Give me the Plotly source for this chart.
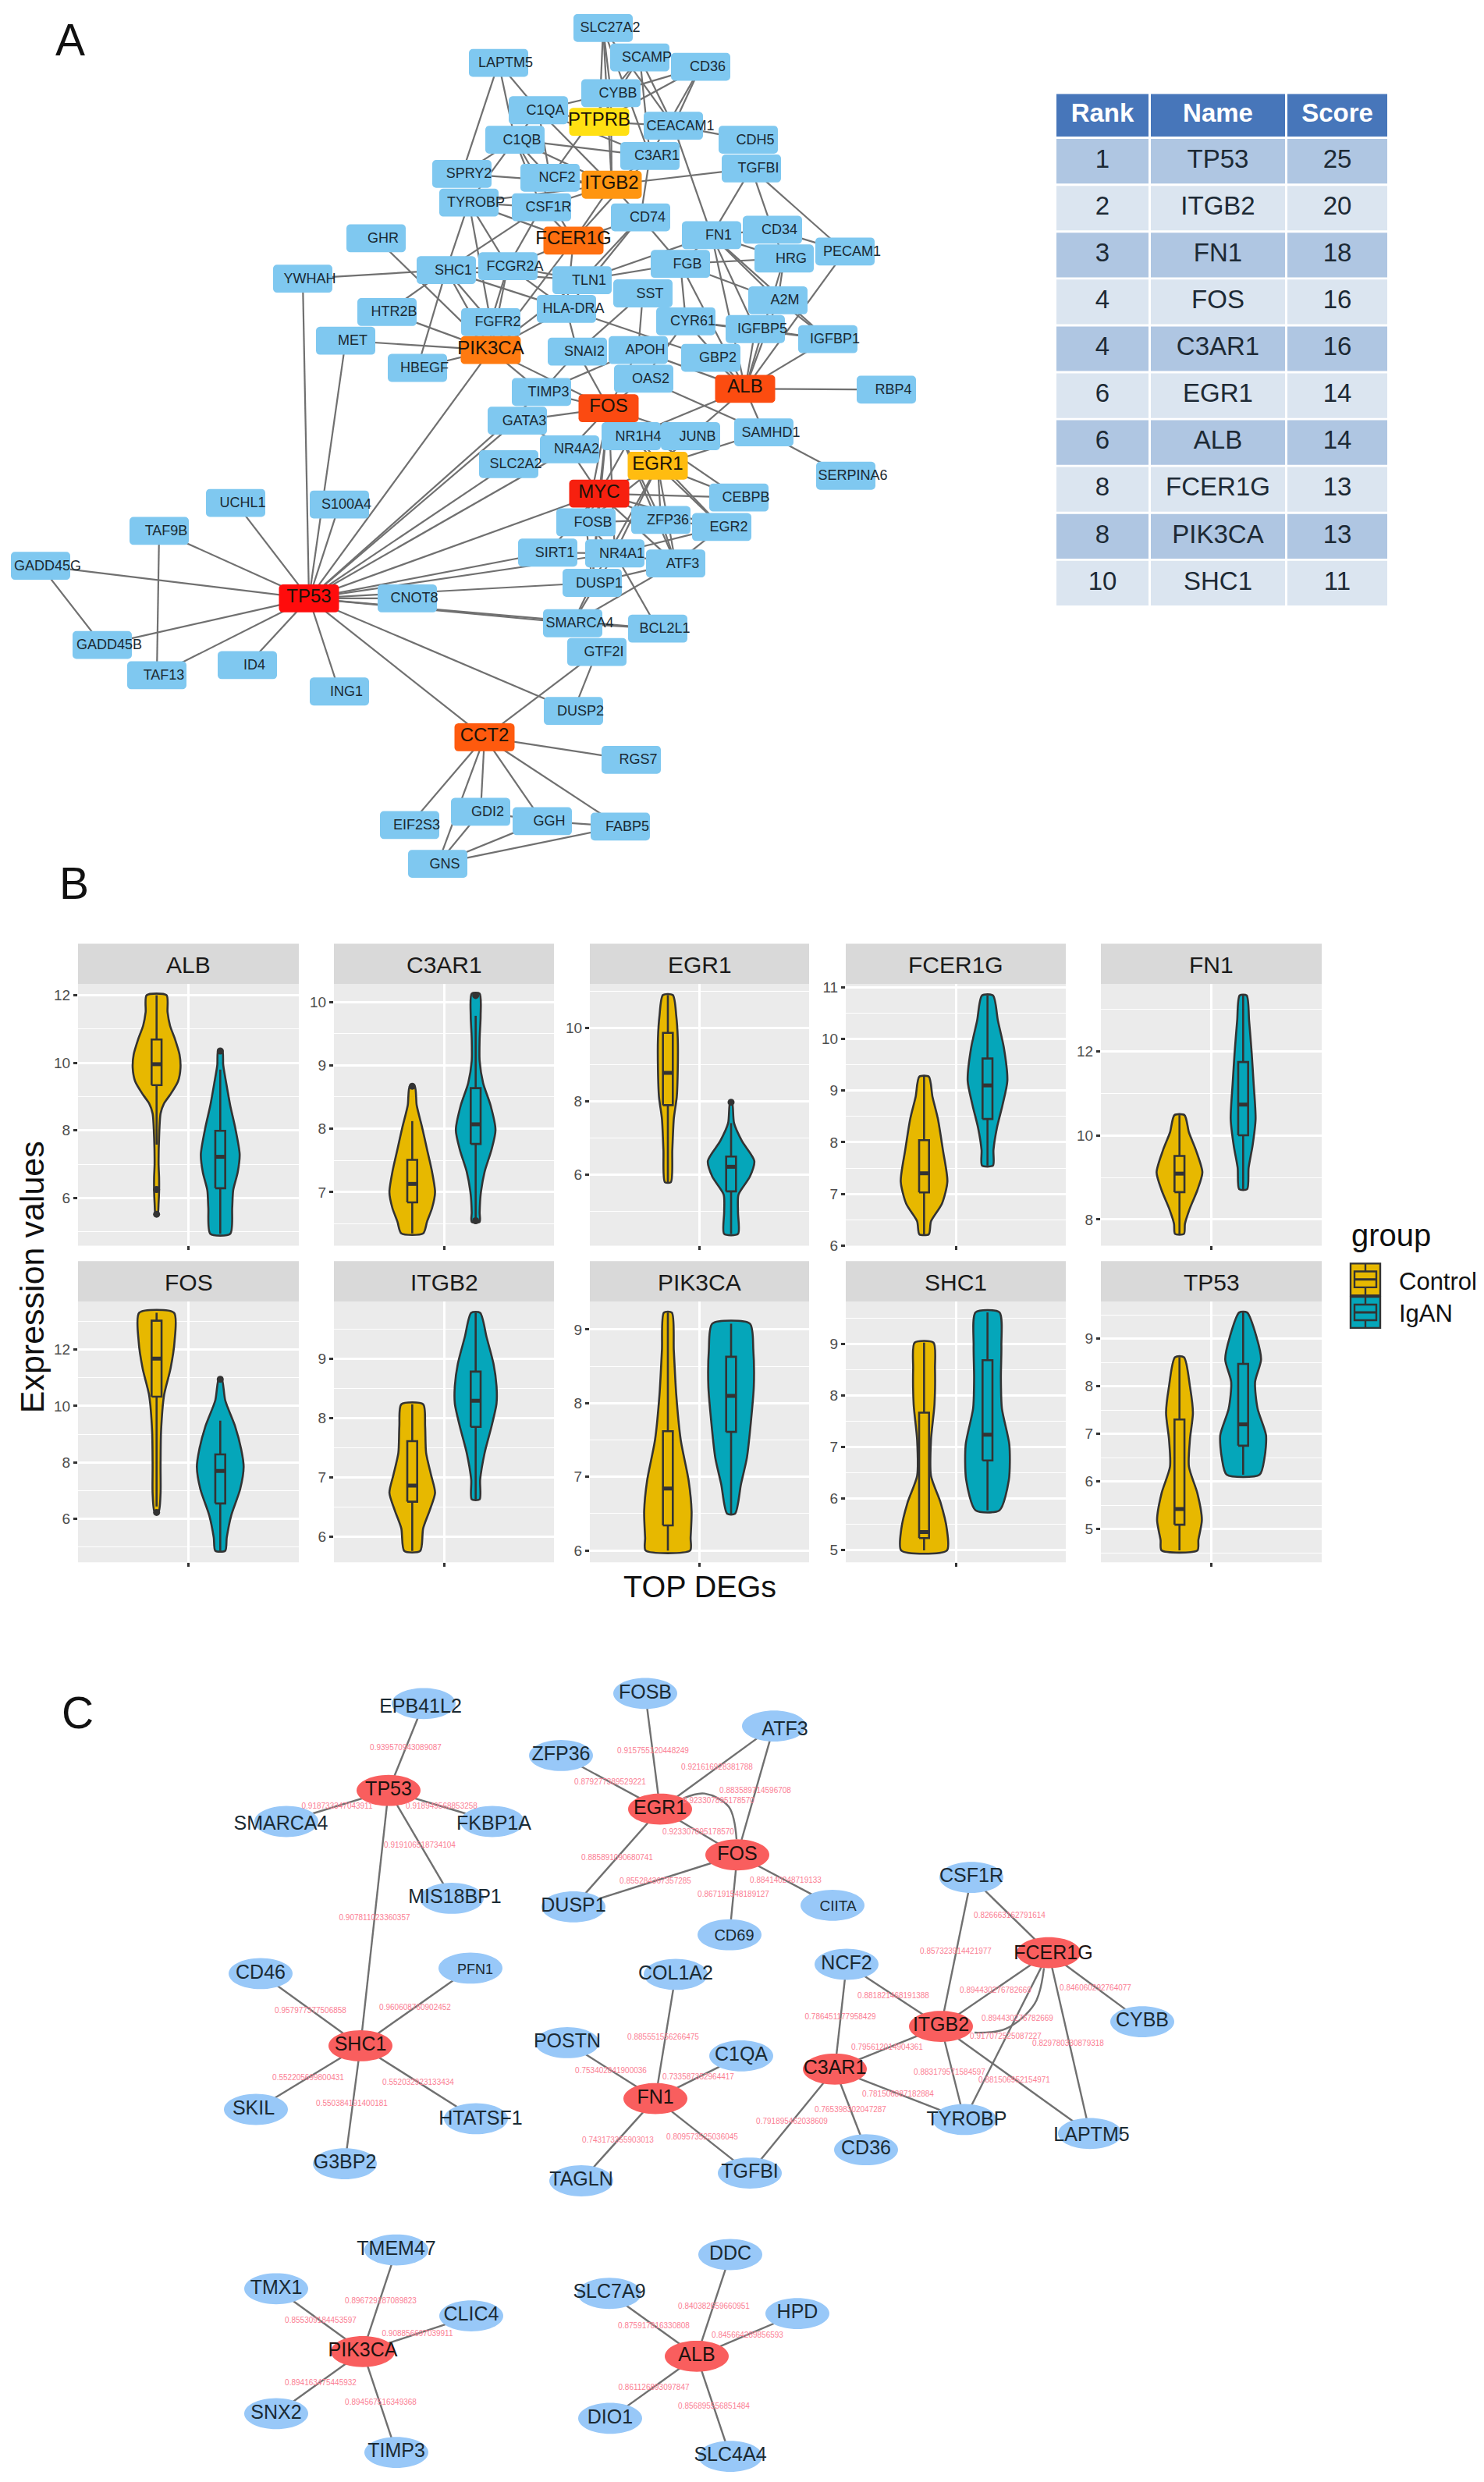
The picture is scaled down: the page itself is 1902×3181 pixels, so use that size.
import numpy as np
import plotly.graph_objects as go

W, H = 1902, 3181
FONT = "Liberation Sans"

# ---------- Panel A: network ----------
A_NAMES = ["SLC27A2","SCAMP","CD36","LAPTM5","CYBB","C1QA","CEACAM1","CDH5","C1QB","C3AR1","TGFBI","SPRY2","NCF2",
 "TYROBP","CSF1R","CD74","CD34","FN1","GHR","PECAM1","HRG","FGB","SHC1","FCGR2A","TLN1","YWHAH","SST","A2M","HTR2B",
 "HLA-DRA","FGFR2","CYR61","IGFBP5","IGFBP1","MET","SNAI2","APOH","GBP2","HBEGF","OAS2","RBP4","TIMP3","GATA3","SAMHD1",
 "NR1H4","JUNB","NR4A2","SLC2A2","SERPINA6","CEBPB","FOSB","ZFP36","EGR2","UCHL1","S100A4","TAF9B","SIRT1","NR4A1","ATF3",
 "GADD45G","DUSP1","CNOT8","SMARCA4","BCL2L1","GADD45B","GTF2I","TAF13","ID4","ING1","DUSP2","RGS7","GDI2","GGH","FABP5",
 "EIF2S3","GNS"]
A_X = [773,820,898,639,783,690,863,959,660,833,963,592,705,601,694,821,990,912,482,1083,1005,872,572,651,746,388,824,997,496,
 726,629,879,968,1061,443,740,818,911,535,825,1136,694,663,979,809,885,730,652,1084,947,751,847,925,302,435,204,702,788,866,
 52,759,522,734,843,131,765,201,317,435,735,809,616,695,795,525,561]
A_Y = [30,68,80,75,114,136,156,174,174,195,211,218,223,255,261,274,290,297,301,318,327,334,342,337,355,353,372,381,396,392,
 409,408,418,431,433,447,445,455,468,482,496,499,536,551,556,556,573,592,607,635,667,664,673,642,644,678,706,707,720,723,745,
 765,797,804,825,834,864,851,885,910,973,1040,1052,1059,1057,1107]
A_HUB_NAMES = ["PTPRB","ITGB2","FCER1G","PIK3CA","ALB","FOS","EGR1","MYC","TP53","CCT2"]
A_HUB_X = [768,784,735,629,955,780,843,768,396,621]
A_HUB_Y = [151,232,304,445,495,520,594,630,765,944]
A_HUB_COLORS = ["#ffe012","#ff9510","#ff6f10","#ff7a10","#fc4c10","#fb4a11","#ffbc10","#f7200f","#ff0c0c","#fe5a0e"]
A_EDGES = """SLC27A2-CEACAM1 SLC27A2-PTPRB SLC27A2-ITGB2 SLC27A2-C3AR1 SLC27A2-CYBB SCAMP-CEACAM1 SCAMP-CYBB SCAMP-PTPRB
SCAMP-C3AR1 CD36-CYBB CD36-CEACAM1 CD36-C3AR1 CD36-PTPRB LAPTM5-SPRY2 LAPTM5-C1QA LAPTM5-C1QB C1QA-C1QB C1QA-NCF2 C1QA-ITGB2
C1QA-C3AR1 C1QA-PTPRB CYBB-ITGB2 CYBB-C1QA CYBB-NCF2 C1QB-C3AR1 C1QB-ITGB2 C1QB-NCF2 C1QB-TYROBP C1QB-SPRY2 C1QB-FCER1G
C1QB-CSF1R PTPRB-CEACAM1 CEACAM1-CDH5 CEACAM1-FN1 C3AR1-ITGB2 C3AR1-FCER1G C3AR1-CD74 ITGB2-TGFBI ITGB2-NCF2 ITGB2-FCER1G
ITGB2-TYROBP ITGB2-CSF1R ITGB2-CD74 ITGB2-SPRY2 TGFBI-FN1 TGFBI-CD34 TGFBI-PECAM1 TYROBP-FCER1G TYROBP-CSF1R TYROBP-SHC1
TYROBP-FGFR2 TYROBP-FCGR2A CSF1R-FCER1G CSF1R-SHC1 CSF1R-FCGR2A FCER1G-FCGR2A FCER1G-CD74 FCER1G-PIK3CA FCER1G-HLA-DRA
CD74-HLA-DRA CD74-TLN1 CD74-FGB FN1-FGB FN1-HRG FN1-A2M FN1-IGFBP5 FN1-IGFBP1 FN1-ALB FN1-TLN1 FN1-CD34 HRG-FGB HRG-A2M
HRG-ALB HRG-CD34 PECAM1-CD34 PECAM1-ALB FGB-TLN1 FGB-A2M FGB-CYR61 FGB-ALB TLN1-SHC1 TLN1-FCGR2A TLN1-PIK3CA SHC1-YWHAH
SHC1-FCGR2A SHC1-FGFR2 SHC1-PIK3CA SHC1-HTR2B SHC1-HBEGF SHC1-HLA-DRA GHR-PIK3CA HTR2B-PIK3CA MET-PIK3CA HBEGF-PIK3CA
FGFR2-PIK3CA FGFR2-FCGR2A FCGR2A-PIK3CA HLA-DRA-PIK3CA PIK3CA-FOS PIK3CA-TIMP3 PIK3CA-TP53 HLA-DRA-SNAI2 HLA-DRA-FCGR2A
HLA-DRA-GBP2 SST-APOH SST-SNAI2 SNAI2-FOS SNAI2-TIMP3 APOH-TIMP3 APOH-FOS APOH-ALB CYR61-IGFBP5 CYR61-IGFBP1 CYR61-ALB
CYR61-OAS2 OAS2-SAMHD1 GBP2-ALB IGFBP5-IGFBP1 IGFBP5-ALB IGFBP1-ALB A2M-IGFBP1 A2M-ALB ALB-RBP4 ALB-SAMHD1 ALB-NR1H4 ALB-JUNB
SAMHD1-SERPINA6 FOS-GATA3 FOS-JUNB FOS-EGR1 FOS-NR4A2 FOS-NR1H4 FOS-NR4A1 FOS-FOSB FOS-TIMP3 FOS-OAS2 FOS-MYC FOS-ZFP36
FOS-ATF3 FOS-EGR2 FOS-DUSP1 FOS-CEBPB GATA3-TP53 GATA3-NR4A2 TIMP3-TP53 SLC2A2-TP53 MYC-TP53 TP53-NR4A2 EGR1-JUNB EGR1-SAMHD1
EGR1-FOSB EGR1-ZFP36 EGR1-ATF3 EGR1-CEBPB EGR1-EGR2 EGR1-NR4A1 EGR1-DUSP1 EGR1-MYC MYC-NR4A2 MYC-NR1H4 MYC-CEBPB MYC-FOSB
MYC-ZFP36 MYC-EGR2 MYC-SIRT1 MYC-ATF3 MYC-DUSP1 FOSB-ZFP36 FOSB-NR4A1 ZFP36-ATF3 NR4A1-ATF3 NR4A1-EGR2 NR4A1-SIRT1 DUSP1-SMARCA4
NR4A1-SMARCA4 SIRT1-TP53 FOSB-DUSP1 DUSP1-ATF3 ZFP36-EGR2 ATF3-EGR2 ATF3-SMARCA4 SMARCA4-BCL2L1 BCL2L1-NR4A1
TP53-GADD45G TP53-TAF9B TP53-UCHL1 TP53-YWHAH TP53-MET TP53-S100A4 TP53-NR4A1 TP53-DUSP1 TP53-SMARCA4 TP53-BCL2L1 TP53-CNOT8
TP53-GADD45B TP53-TAF13 TP53-ID4 TP53-ING1 TP53-CCT2 TP53-DUSP2 TAF9B-TAF13 GADD45G-GADD45B CCT2-GTF2I CCT2-RGS7 CCT2-EIF2S3
CCT2-GDI2 CCT2-GNS CCT2-GGH CCT2-FABP5 GTF2I-DUSP2 GNS-GDI2 GNS-GGH GNS-FABP5 GGH-FABP5 GDI2-GGH""".split()

# ---------- Panel A: ranking table ----------
TBL_COLUMNS = ["Rank","Name","Score"]
TBL_RANK = ["1","2","3","4","4","6","6","8","8","10"]
TBL_NAME = ["TP53","ITGB2","FN1","FOS","C3AR1","EGR1","ALB","FCER1G","PIK3CA","SHC1"]
TBL_SCORE = ["25","20","18","16","16","14","14","13","13","11"]

# ---------- Panel B: violins (level, relative density) ----------
GENES = ["ALB","C3AR1","EGR1","FCER1G","FN1","FOS","ITGB2","PIK3CA","SHC1","TP53"]
Y_RANGE = {"ALB":(4.59,12.33),"C3AR1":(6.157,10.28),"EGR1":(4.07,11.2),"FCER1G":(6.0,11.06),"FN1":(7.38,13.59),
           "FOS":(4.45,13.71),"ITGB2":(5.57,9.96),"PIK3CA":(5.84,9.38),"SHC1":(4.76,9.83),"TP53":(4.3,9.78)}
Y_DTICK = {"ALB":2,"C3AR1":1,"EGR1":2,"FCER1G":1,"FN1":2,"FOS":2,"ITGB2":1,"PIK3CA":1,"SHC1":1,"TP53":1}
CTRL_LEVEL = {
 "ALB":[12,11.5,11.1,10.7,10.25,9.85,9.45,9.05,8.8,8.5,7.8,7,6.6,6.2,5.85,5.5],
 "C3AR1":[8.67,8.37,8.02,7.67,7.32,7.0,6.75,6.54,6.35],
 "EGR1":[10.9,10.33,9.72,8.87,8.13,7.53,6.68,5.8],
 "FCER1G":[9.27,8.88,8.45,7.85,7.24,6.81,6.47,6.22],
 "FN1":[10.48,10.07,9.65,9.12,8.7,8.27,7.9,7.66],
 "FOS":[13.31,12.28,11.33,10.38,9.11,7.84,6.9,6.24],
 "ITGB2":[8.23,7.86,7.41,7.04,6.74,6.44,6.14,5.76],
 "PIK3CA":[9.23,8.72,8.11,7.5,6.95,6.53,6.17,6],
 "SHC1":[9.03,8.53,7.83,7.14,6.44,5.93,5.4,4.99],
 "TP53":[8.61,8.0,7.44,6.88,6.31,5.75,5.19,4.77,4.55]}
CTRL_DENS = {
 "ALB":[20,22,27,37,46,48,43,27,15,8,5,4,5,5,4,2],
 "C3AR1":[5,9,20,30,40,46,40,30,22],
 "EGR1":[10,17,20,20,18,12,9,6],
 "FCER1G":[9.5,17,28,38,47,36,14,9.5],
 "FN1":[10,19,33,46,36,21,11,9],
 "FOS":[35,36,28,15,9,8,8,4],
 "ITGB2":[22,26,28,38,46,35,22,16],
 "PIK3CA":[8,12,17,26,42,48,46,45],
 "SHC1":[19,22,21,14,14,33,46,46],
 "TP53":[9,21,27,21,19,36,45,38,36]}
IGAN_LEVEL = {
 "ALB":[10.39,9.93,9.4,8.74,8.08,7.29,6.76,6.23,5.71,4.94],
 "C3AR1":[10.13,9.78,9.42,9.07,8.72,8.37,7.98,7.67,7.32,6.96,6.68,6.53],
 "EGR1":[7.98,7.41,6.92,6.38,5.95,5.46,4.98,4.39],
 "FCER1G":[10.84,10.35,9.83,9.19,8.71,8.28,7.85,7.55],
 "FN1":[13.32,12.72,11.98,11.24,10.39,9.76,9.23,8.72],
 "FOS":[10.96,10.2,9.27,8.47,7.84,7.05,6.11,5.32,4.86],
 "ITGB2":[9.77,9.36,8.91,8.54,8.24,7.86,7.41,6.96,6.63],
 "PIK3CA":[9.08,8.72,8.23,7.74,7.26,6.9,6.5],
 "SHC1":[9.62,8.97,8.35,7.75,7.05,6.36,5.77],
 "TP53":[9.55,9.03,8.56,8.09,7.53,6.97,6.5,6.14]}
IGAN_DENS = {
 "ALB":[4,6,12,20,30,39,35,26,24,20],
 "C3AR1":[8,10,8,8,15,30,40,32,18,10,8,8],
 "EGR1":[2,6,22,47,38,15,14,14],
 "FCER1G":[11,21,33,40,30,19,12,11],
 "FN1":[7,12,17,21,25,19,11,8],
 "FOS":[3,10,30,42,47,40,22,13,10],
 "ITGB2":[9,22,36,42,42,32,18,9,8],
 "PIK3CA":[38,45,46,40,32,20,8],
 "SHC1":[24,28,27,29,44,43,24],
 "TP53":[8,27,36,24,29,46,43,33]}
# q1, median, q3, lower whisker, upper whisker
CTRL_BOX = {"ALB":(9.34,9.96,10.69,7.58,12),"C3AR1":(6.84,7.13,7.51,6.35,8.12),"EGR1":(7.9,8.78,9.87,5.8,10.9),
 "FCER1G":(7.03,7.4,8.04,6.22,9.27),"FN1":(8.65,9.09,9.51,7.66,10.48),"FOS":(10.33,11.68,13.03,6.43,13.31),
 "ITGB2":(6.59,6.86,7.61,5.76,8.23),"PIK3CA":(6.34,6.84,7.62,6,9.23),"SHC1":(5.23,5.35,7.67,4.99,9.03),"TP53":(5.09,5.42,7.3,4.55,8.61)}
IGAN_BOX = {"ALB":(6.29,7.22,7.99,4.94,9.8),"C3AR1":(7.76,8.07,8.64,6.53,9.78),"EGR1":(5.55,6.22,6.5,4.39,7.41),
 "FCER1G":(8.45,9.1,9.62,7.55,10.84),"FN1":(10,10.73,11.74,8.72,13.32),"FOS":(6.54,7.69,8.28,4.86,9.48),
 "ITGB2":(7.85,8.29,8.78,6.63,9.77),"PIK3CA":(7.61,8.1,8.63,6.5,9.08),"SHC1":(6.74,7.24,8.69,5.77,9.62),"TP53":(6.75,7.2,8.47,6.14,9.55)}
CTRL_OUT = {"ALB":[6.25,5.52],"C3AR1":[8.67],"FOS":[6.22]}
IGAN_OUT = {"ALB":[10.35],"C3AR1":[10.1,6.55],"EGR1":[7.98],"FOS":[10.95]}
GROUPS = ["Control","IgAN"]

# ---------- Panel C: coexpression networks ----------
C_NAMES = ["EPB41L2","SMARCA4","FKBP1A","MIS18BP1","FOSB","ZFP36","ATF3","DUSP1","CD69","CD46","PFN1","SKIL","HTATSF1",
 "COL1A2","POSTN","C1QA","G3BP2","TAGLN","TGFBI","NCF2","CSF1R","CYBB","TYROBP","CD36","LAPTM5","CIITA","TMEM47","TMX1",
 "CLIC4","SNX2","TIMP3","DDC","SLC7A9","HPD","DIO1","SLC4A4"]
C_X = [543,367,631,579,827,719,992,735,935,334,603,328,610,866,727,950,442,745,961,1085,1245,1464,1236,1110,1397,1067,508,
 354,604,354,508,936,781,1022,782,936]
C_Y = [2189,2341,2341,2440,2176,2256,2218,2451,2487,2537,2530,2712,2724,2538,2626,2643,2782,2804,2794,2525,2413,2599,2725,
 2764,2743,2449,2893,2943,2978,3104,3154,2899,2949,2975,3110,3159]
C_HUB_NAMES = ["TP53","EGR1","FOS","SHC1","FN1","C3AR1","ITGB2","FCER1G","PIK3CA","ALB"]
C_HUB_X = [498,846,945,462,840,1070,1206,1344,465,893]
C_HUB_Y = [2301,2325,2384,2630,2698,2660,2605,2510,3024,3030]
C_LABEL_SHIFT = {"EPB41L2":(-4,5),"SMARCA4":(-7,4),"FKBP1A":(2,4),"MIS18BP1":(4,0),"ATF3":(14,6),"CD69":(6,2),"PFN1":(6,3),
 "SKIL":(-3,0),"HTATSF1":(6,1),"CIITA":(7,2),"FCER1G":(6,2),"TYROBP":(3,1),"LAPTM5":(2,3)}
C_LABEL_SIZE = {"CD69":20,"PFN1":18,"CIITA":19}
C_EDGES = [("TP53","EPB41L2"),("TP53","SMARCA4"),("TP53","FKBP1A"),("TP53","MIS18BP1"),("TP53","SHC1"),("SHC1","CD46"),
 ("SHC1","PFN1"),("SHC1","SKIL"),("SHC1","HTATSF1"),("SHC1","G3BP2"),("EGR1","FOSB"),("EGR1","ZFP36"),("EGR1","ATF3"),
 ("FOS","ATF3"),("EGR1","FOS"),("EGR1","DUSP1"),("FOS","DUSP1"),("FOS","CD69"),("FOS","CIITA"),("FN1","COL1A2"),("FN1","POSTN"),
 ("FN1","C1QA"),("FN1","TAGLN"),("FN1","TGFBI"),("C3AR1","NCF2"),("C3AR1","ITGB2"),("C3AR1","TYROBP"),("C3AR1","CD36"),
 ("C3AR1","TGFBI"),("ITGB2","NCF2"),("ITGB2","CSF1R"),("FCER1G","CSF1R"),("ITGB2","FCER1G"),("ITGB2","TYROBP"),("ITGB2","LAPTM5"),
 ("FCER1G","TYROBP"),("FCER1G","LAPTM5"),("FCER1G","CYBB"),("PIK3CA","TMEM47"),("PIK3CA","TMX1"),("PIK3CA","CLIC4"),
 ("PIK3CA","SNX2"),("PIK3CA","TIMP3"),("ALB","DDC"),("ALB","SLC7A9"),("ALB","HPD"),("ALB","DIO1"),("ALB","SLC4A4")]
C_CURVE_1_X = [876,903,934,944]
C_CURVE_1_Y = [2311,2305,2322,2364]
C_CURVE_2_X = [1338,1326,1289,1249]
C_CURVE_2_Y = [2530,2576,2608,2613]
C_WEIGHT = ["0.939570943089087","0.918733347043911","0.918949568853258","0.919106518734104","0.907811023360357",
 "0.957977377506858","0.960608760902452","0.552205699800431","0.552032923133434","0.550384191400181","0.915755120448249",
 "0.921616928381788","0.879277389529221","0.883589714596708","0.923307895178570","0.923307895178570","0.885891090680741",
 "0.855284367357285","0.867191548189127","0.884140248719133","0.885551556266475","0.753402841900036","0.733587352964417",
 "0.743173355903013","0.809573525036045","0.786451177958429","0.795612014904361","0.781506887182884","0.765398302047287",
 "0.791895462038609","0.881821468191388","0.857323914421977","0.826663162791614","0.894430276782669","0.894430276782669",
 "0.883179571584597","0.881506952154971","0.917072525087227","0.829780330879318","0.846060292764077","0.896729187089823",
 "0.855309184453597","0.908856697039911","0.894163475445932","0.894567516349368","0.840382659660951","0.875917816330808",
 "0.845664289856593","0.861126893097847","0.856895556851484"]
C_WEIGHT_X = [520,432,566,538,480,398,532,395,536,451,837,919,782,968,921,895,791,840,940,1007,850,783,895,792,900,1077,1137,
 1151,1090,1015,1145,1225,1294,1276,1304,1217,1300,1289,1369,1404,488,411,535,411,488,915,838,958,838,915]
C_WEIGHT_Y = [2246,2322,2322,2372,2466,2585,2581,2672,2678,2705,2251,2272,2291,2302,2315,2355,2388,2418,2436,2417,2619,2663,
 2671,2752,2748,2593,2633,2693,2713,2728,2566,2509,2463,2559,2595,2665,2675,2618,2628,2556,2959,2984,3002,3065,3090,2966,
 2991,3004,3071,3095]

# ---------- Styles ----------
SKY = "#7fc8f0"; ELL = "#98c8f8"; RED = "#f95e5e"; EDGE = "#707070"; INK = "#1b2a33"
VIO = {"Control":"#e7b800","IgAN":"#05a6ba"}
OUT_LINE = "#333333"
PANEL_L = [100,428,756,1084,1411]; PANEL_R = [383,710,1037,1366,1694]
ROW_STRIP_T = [1210,1619]; ROW_T = [1262,1671]; ROW_B = [1599,2007]
DODGE = 0.173; DENS_SCALE = 0.002705; BOX_HALF = 0.027
TBL_COL_L = [1354,1475,1650]; TBL_COL_R = [1472,1647,1778]; TBL_TEXT_X = [1413,1561,1714]
TBL_HEAD_T, TBL_HEAD_B = 115, 170
TBL_ROW_T0, TBL_ROW_STEP, TBL_ROW_H = 173, 60.4, 57.5

def split_edge(e):
    if e.startswith("HLA-DRA-"):
        return "HLA-DRA", e[8:]
    if e.endswith("-HLA-DRA"):
        return e[:-8], "HLA-DRA"
    return tuple(e.split("-"))

def rrect(cx, cy, w, h, r=5):
    xs, ys = [], []
    for (ax, ay, a0) in [(cx+w/2-r, cy-h/2+r, -90), (cx+w/2-r, cy+h/2-r, 0), (cx-w/2+r, cy+h/2-r, 90), (cx-w/2+r, cy-h/2+r, 180)]:
        t = np.radians(np.linspace(a0, a0+90, 5))
        xs += list(ax + r*np.cos(t)); ys += list(ay + r*np.sin(t))
    return xs+[xs[0], None], ys+[ys[0], None]

def ell(cx, cy, rx=41, ry=20):
    t = np.linspace(0, 2*np.pi, 61)
    return list(cx+rx*np.cos(t))+[None], list(cy+ry*np.sin(t))+[None]

fig = go.Figure()
axes = {}

def page_trace(**kw):
    kw.setdefault("hoverinfo", "skip"); kw.setdefault("showlegend", False)
    fig.add_trace(go.Scatter(xaxis="x", yaxis="y", **kw))

# A edges
pos_a = {n:(x,y) for n,x,y in zip(A_NAMES, A_X, A_Y)}
pos_a.update({n:(x,y) for n,x,y in zip(A_HUB_NAMES, A_HUB_X, A_HUB_Y)})
ex, ey = [], []
for e in A_EDGES:
    a, b = split_edge(e)
    ex += [pos_a[a][0], pos_a[b][0], None]; ey += [pos_a[a][1], pos_a[b][1], None]
page_trace(x=ex, y=ey, mode="lines", line=dict(color=EDGE, width=2.2), name="A edges")
# A nodes
px_, py_ = [], []
for x, y in zip(A_X, A_Y):
    a, b = rrect(x, y, 76, 36); px_ += a; py_ += b
page_trace(x=px_, y=py_, mode="none", fill="toself", fillcolor=SKY, name="A nodes")
page_trace(x=[x+9 for x in A_X], y=[y+1 for y in A_Y], mode="text", text=A_NAMES,
           textfont=dict(family=FONT, size=18, color=INK), textposition="middle center")
for n, x, y, c in zip(A_HUB_NAMES, A_HUB_X, A_HUB_Y, A_HUB_COLORS):
    a, b = rrect(x, y, 77, 36)
    page_trace(x=a, y=b, mode="none", fill="toself", fillcolor=c, name=n)
page_trace(x=A_HUB_X, y=[y-1 for y in A_HUB_Y], mode="text", text=A_HUB_NAMES,
           textfont=dict(family=FONT, size=24, color="#1a1208"), textposition="middle center")

# C edges
pos_c = {n:(x,y) for n,x,y in zip(C_NAMES, C_X, C_Y)}
pos_c.update({n:(x,y) for n,x,y in zip(C_HUB_NAMES, C_HUB_X, C_HUB_Y)})
ex, ey = [], []
for a, b in C_EDGES:
    ex += [pos_c[a][0], pos_c[b][0], None]; ey += [pos_c[a][1], pos_c[b][1], None]
page_trace(x=ex, y=ey, mode="lines", line=dict(color=EDGE, width=2.4))
page_trace(x=C_CURVE_1_X, y=C_CURVE_1_Y, mode="lines", line=dict(color=EDGE, width=2.4, shape="spline"))
page_trace(x=C_CURVE_2_X, y=C_CURVE_2_Y, mode="lines", line=dict(color=EDGE, width=2.4, shape="spline"))
px_, py_ = [], []
for x, y in zip(C_X, C_Y):
    a, b = ell(x, y); px_ += a; py_ += b
page_trace(x=px_, y=py_, mode="none", fill="toself", fillcolor=ELL)
px_, py_ = [], []
for x, y in zip(C_HUB_X, C_HUB_Y):
    a, b = ell(x, y); px_ += a; py_ += b
page_trace(x=px_, y=py_, mode="none", fill="toself", fillcolor=RED)
page_trace(x=C_WEIGHT_X, y=C_WEIGHT_Y, mode="text", text=C_WEIGHT,
           textfont=dict(family=FONT, size=10, color="#fb8094"), textposition="middle center")
lx = [x+C_LABEL_SHIFT.get(n,(0,0))[0] for n,x in zip(C_NAMES, C_X)]
ly = [y+C_LABEL_SHIFT.get(n,(0,0))[1] for n,y in zip(C_NAMES, C_Y)]
page_trace(x=lx, y=ly, mode="text", text=C_NAMES,
           textfont=dict(family=FONT, size=[C_LABEL_SIZE.get(n,25) for n in C_NAMES], color=INK), textposition="middle center")
hx = [x+C_LABEL_SHIFT.get(n,(0,0))[0] for n,x in zip(C_HUB_NAMES, C_HUB_X)]
hy = [y+C_LABEL_SHIFT.get(n,(0,0))[1] for n,y in zip(C_HUB_NAMES, C_HUB_Y)]
page_trace(x=hx, y=hy, mode="text", text=C_HUB_NAMES,
           textfont=dict(family=FONT, size=25, color="#20120f"), textposition="middle center")

# Table
shapes, annots = [], []
for j, name in enumerate(TBL_COLUMNS):
    shapes.append(dict(type="rect", xref="x", yref="y", x0=TBL_COL_L[j], x1=TBL_COL_R[j], y0=TBL_HEAD_T, y1=TBL_HEAD_B,
                       fillcolor="#4776ba", line_width=0, layer="below"))
    for i in range(len(TBL_RANK)):
        top = TBL_ROW_T0 + i*TBL_ROW_STEP
        shapes.append(dict(type="rect", xref="x", yref="y", x0=TBL_COL_L[j], x1=TBL_COL_R[j], y0=top, y1=top+TBL_ROW_H,
                           fillcolor="#afc6e2" if i % 2 == 0 else "#dbe5f0", line_width=0, layer="below"))
page_trace(x=TBL_TEXT_X, y=[(TBL_HEAD_T+TBL_HEAD_B)/2]*3, mode="text", text=["<b>%s</b>" % c for c in TBL_COLUMNS],
           textfont=dict(family=FONT, size=33, color="white"), textposition="middle center")
for j, col in enumerate([TBL_RANK, TBL_NAME, TBL_SCORE]):
    page_trace(x=[TBL_TEXT_X[j]]*len(col), y=[TBL_ROW_T0+TBL_ROW_H/2+i*TBL_ROW_STEP for i in range(len(col))], mode="text", text=col,
               textfont=dict(family=FONT, size=33, color="#1d2a35"), textposition="middle center")

# B panels
for i, g in enumerate(GENES):
    r, c = divmod(i, 5)
    l, rt, t, b = PANEL_L[c], PANEL_R[c], ROW_T[r], ROW_B[r]
    shapes.append(dict(type="rect", xref="x", yref="y", x0=l, x1=rt, y0=t, y1=b, fillcolor="#ebebeb", line_width=0, layer="below"))
    shapes.append(dict(type="rect", xref="x", yref="y", x0=l, x1=rt, y0=ROW_STRIP_T[r], y1=t, fillcolor="#d9d9d9", line_width=0, layer="below"))
    annots.append(dict(x=(l+rt)/2, y=(ROW_STRIP_T[r]+t)/2+1, xref="x", yref="y", text=g, showarrow=False,
                       font=dict(family=FONT, size=30, color="#1a1a1a")))
    n = str(i+2)
    xa, ya = "x"+n, "y"+n
    for grp, cen, lev, den, box, out in [("Control",-DODGE,CTRL_LEVEL,CTRL_DENS,CTRL_BOX,CTRL_OUT),("IgAN",DODGE,IGAN_LEVEL,IGAN_DENS,IGAN_BOX,IGAN_OUT)]:
        yy = lev[g]; dd = np.array(den[g])*DENS_SCALE
        xs = list(cen+dd)+list(cen-dd[::-1])+[cen+dd[0]]
        ys = list(yy)+list(yy[::-1])+[yy[0]]
        fig.add_trace(go.Scatter(x=xs, y=ys, xaxis=xa, yaxis=ya, mode="lines", fill="toself", fillcolor=VIO[grp],
                                 line=dict(color=OUT_LINE, width=2.6, shape="spline", smoothing=0.7),
                                 name=grp, showlegend=False, hoverinfo="skip"))
        q1, med, q3, lo, hi = box[g]
        bx = [cen, cen, None, cen, cen, None, cen-BOX_HALF, cen+BOX_HALF, cen+BOX_HALF, cen-BOX_HALF, cen-BOX_HALF]
        by = [lo, q1, None, q3, hi, None, q1, q1, q3, q3, q1]
        fig.add_trace(go.Scatter(x=bx, y=by, xaxis=xa, yaxis=ya, mode="lines", line=dict(color=OUT_LINE, width=2.6),
                                 name=grp+" box", showlegend=False, hoverinfo="skip"))
        fig.add_trace(go.Scatter(x=[cen-BOX_HALF, cen+BOX_HALF], y=[med, med], xaxis=xa, yaxis=ya, mode="lines",
                                 line=dict(color=OUT_LINE, width=5), showlegend=False, hoverinfo="skip"))
        if g in out:
            fig.add_trace(go.Scatter(x=[cen]*len(out[g]), y=out[g], xaxis=xa, yaxis=ya, mode="markers",
                                     marker=dict(color=OUT_LINE, size=9), showlegend=False, hoverinfo="skip"))
    dt = Y_DTICK[g]
    axes["xaxis"+n] = dict(domain=[l/W, rt/W], anchor=ya, range=[-0.6,0.6], tickvals=[0], ticktext=[""], ticks="outside", ticklen=5,
                           tickwidth=2.5, tickcolor="#333333", showgrid=True, gridcolor="white", gridwidth=2.5, zeroline=False, showline=False,
                           fixedrange=True)
    axes["yaxis"+n] = dict(domain=[1-b/H, 1-t/H], anchor=xa, range=list(Y_RANGE[g]), dtick=dt, tick0=0, ticks="outside", ticklen=5,
                           tickwidth=2.5, tickcolor="#333333", tickfont=dict(family=FONT, size=19, color="#4d4d4d"),
                           showgrid=True, gridcolor="white", gridwidth=2.5, zeroline=False, showline=False, fixedrange=True,
                           minor=dict(dtick=dt/2, tick0=0, showgrid=True, gridcolor="white", gridwidth=1.2, ticks=""))

# B titles, legend, letters
def note(x, y, text, size, color="#111111", angle=0, anchor="center"):
    annots.append(dict(x=x, y=y, xref="x", yref="y", text=text, showarrow=False, textangle=angle, xanchor=anchor,
                       font=dict(family=FONT, size=size, color=color)))
note(41, 1640, "Expression values", 43, angle=-90)
note(897, 2038, "TOP DEGs", 39.5)
note(1730, 1585, "group", 40, anchor="left")
note(1791, 1645, "Control", 31, anchor="left")
note(1791, 1687, "IgAN", 31, anchor="left")
note(90, 45, "A", 57); note(95, 1132, "B", 57); note(99, 2201, "C", 57)
for grp, (kt, kb) in zip(GROUPS, [(1622,1663),(1665,1705)]):
    kl, kr = 1731, 1769
    q = (kb-kt)/4
    shapes.append(dict(type="rect", xref="x", yref="y", x0=kl, x1=kr, y0=kt, y1=kb, fillcolor=VIO[grp], line=dict(color=OUT_LINE, width=2.4)))
    shapes.append(dict(type="rect", xref="x", yref="y", x0=kl+5, x1=kr-5, y0=kt+q, y1=kb-q, fillcolor=VIO[grp], line=dict(color=OUT_LINE, width=2.4)))
    shapes.append(dict(type="line", xref="x", yref="y", x0=kl+5, x1=kr-5, y0=kt+2*q, y1=kt+2*q, line=dict(color=OUT_LINE, width=3)))
    shapes.append(dict(type="line", xref="x", yref="y", x0=(kl+kr)/2, x1=(kl+kr)/2, y0=kt, y1=kt+q, line=dict(color=OUT_LINE, width=2.4)))
    shapes.append(dict(type="line", xref="x", yref="y", x0=(kl+kr)/2, x1=(kl+kr)/2, y0=kb-q, y1=kb, line=dict(color=OUT_LINE, width=2.4)))

fig.update_layout(
    width=W, height=H, autosize=False, margin=dict(l=0, r=0, t=0, b=0), paper_bgcolor="white", plot_bgcolor="rgba(0,0,0,0)",
    showlegend=False, shapes=shapes, annotations=annots, font=dict(family=FONT),
    xaxis=dict(domain=[0,1], range=[0,W], visible=False, fixedrange=True),
    yaxis=dict(domain=[0,1], range=[H,0], visible=False, fixedrange=True),
    **axes)
fig.write_html("out.html", config=dict(displayModeBar=False),
               post_script="document.body.style.margin='0';document.body.style.overflow='hidden';")
